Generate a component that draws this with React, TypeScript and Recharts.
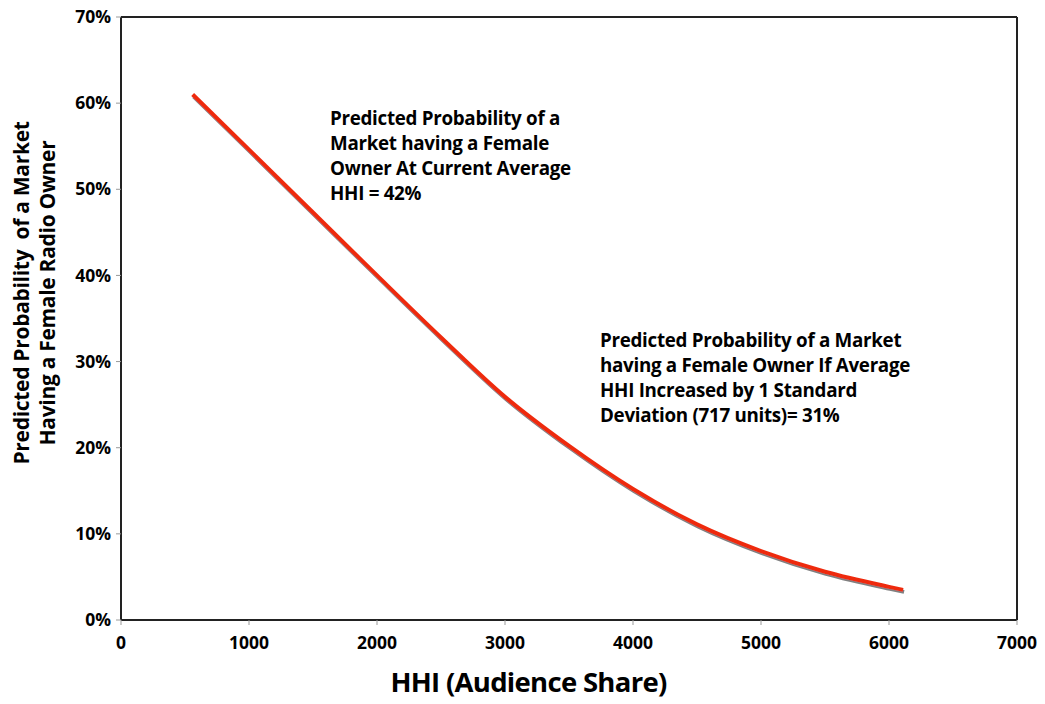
import React from 'react';
import { LineChart, Line, XAxis, YAxis, ReferenceLine } from 'recharts';

const hhi = [560, 1000, 1500, 2000, 2500, 3000, 3500, 4000, 4500, 5000, 5500, 6000, 6110];
const probability = [61.0, 54.6, 47.3, 40.0, 32.8, 25.9, 20.2, 15.2, 11.1, 8.0, 5.6, 3.85, 3.5];
const xTicks = [0, 1000, 2000, 3000, 4000, 5000, 6000, 7000];
const yTicks = [0, 10, 20, 30, 40, 50, 60, 70];

const xTitle = 'HHI (Audience Share)';
const yTitleLines = ['Predicted Probability  of a Market', 'Having a Female Radio Owner'];
const note1 = ['Predicted Probability of a', 'Market having a Female', 'Owner At Current Average', 'HHI = 42%'];
const note2 = ['Predicted Probability of a Market', 'having a Female Owner If Average', 'HHI Increased by 1 Standard', 'Deviation (717 units)= 31%'];

const data = hhi.map((x, i) => ({ x, p: probability[i] }));

const FONT = '"Open Sans", "DejaVu Sans", sans-serif';
const tickStyle = { fontFamily: FONT, fontWeight: 700, fontSize: 17.5, fill: '#000' };

const noteStyle: React.CSSProperties = {
  position: 'absolute',
  fontFamily: FONT,
  fontWeight: 700,
  fontSize: 18.8,
  lineHeight: '25px',
  color: '#000',
  whiteSpace: 'nowrap',
  letterSpacing: -0.3,
};

export default function App() {
  return (
    <div style={{ position: 'absolute', left: 0, top: 0, width: 1045, height: 704, background: '#fff', overflow: 'hidden' }}>
      <LineChart
        width={1045}
        height={704}
        data={data}
        margin={{ top: 17, right: 28, bottom: 54, left: 61 }}
      >
        <defs>
          <filter id="lineShadow" x="-10%" y="-10%" width="120%" height="120%">
            <feDropShadow dx="1" dy="2" stdDeviation="0.6" floodColor="#808080" floodOpacity="1" />
          </filter>
        </defs>
        <XAxis
          dataKey="x"
          type="number"
          domain={[0, 7000]}
          ticks={xTicks}
          tick={tickStyle}
          tickSize={5}
          tickMargin={12}
          height={30}
          axisLine={{ stroke: '#222', strokeWidth: 2 }}
          tickLine={{ stroke: '#999', strokeWidth: 1 }}
          interval={0}
        />
        <YAxis
          type="number"
          domain={[0, 70]}
          ticks={yTicks}
          tick={tickStyle}
          tickFormatter={(v: number) => `${v}%`}
          tickSize={5}
          tickMargin={5}
          width={60}
          axisLine={{ stroke: '#222', strokeWidth: 2 }}
          tickLine={{ stroke: '#999', strokeWidth: 1 }}
          interval={0}
        />
        <ReferenceLine y={70} stroke="#222" strokeWidth={2} ifOverflow="extendDomain" />
        <ReferenceLine x={7000} stroke="#222" strokeWidth={2} ifOverflow="extendDomain" />
        <Line
          dataKey="p"
          type="monotone"
          stroke="#ee2a0e"
          strokeWidth={4}
          dot={false}
          activeDot={false}
          isAnimationActive={false}
          filter="url(#lineShadow)"
        />
      </LineChart>

      <div style={{ ...noteStyle, left: 330, top: 106 }}>
        {note1.map((l, i) => (
          <div key={i}>{l}</div>
        ))}
      </div>
      <div style={{ ...noteStyle, left: 600, top: 328 }}>
        {note2.map((l, i) => (
          <div key={i}>{l}</div>
        ))}
      </div>

      <div
        style={{
          position: 'absolute',
          left: 0,
          top: 667,
          width: 1045,
          paddingLeft: 12,
          boxSizing: 'border-box',
          textAlign: 'center',
          fontFamily: FONT,
          fontWeight: 700,
          fontSize: 27.5,
          lineHeight: '30px',
          letterSpacing: -0.7,
          color: '#000',
          whiteSpace: 'nowrap',
        }}
      >
        {xTitle}
      </div>

      <svg style={{ position: 'absolute', left: 0, top: 0 }} width={70} height={704}>
        <g transform="translate(33,293) rotate(-90)">
          {yTitleLines.map((l, i) => (
            <text
              key={i}
              x={0}
              y={i * 26 - 4}
              textAnchor="middle"
              style={{ fontFamily: FONT, fontWeight: 700, fontSize: 21, letterSpacing: -0.3, whiteSpace: 'pre' }}
              fill="#000"
            >
              {l}
            </text>
          ))}
        </g>
      </svg>
    </div>
  );
}
